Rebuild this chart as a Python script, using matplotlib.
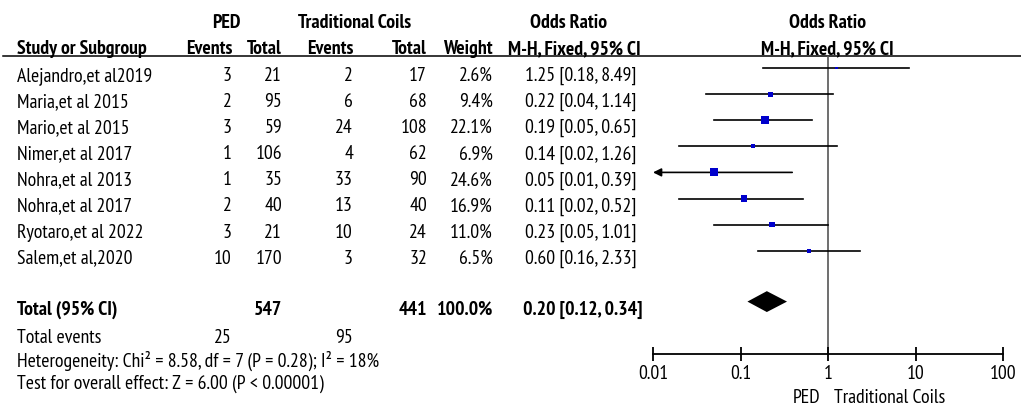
import numpy as np
import matplotlib
matplotlib.use("Agg")
import matplotlib.pyplot as plt

plt.rcParams['font.family'] = ['PT Sans Narrow', 'DejaVu Sans']

studies = ["Alejandro,et al2019", "Maria,et al 2015", "Mario,et al 2015",
           "Nimer,et al 2017", "Nohra,et al 2013", "Nohra,et al 2017",
           "Ryotaro,et al 2022", "Salem,et al,2020"]
ped_events = [3, 2, 3, 1, 1, 2, 3, 10]
ped_total = [21, 95, 59, 106, 35, 40, 21, 170]
tc_events = [2, 6, 24, 4, 33, 13, 10, 3]
tc_total = [17, 68, 108, 62, 90, 40, 24, 32]
weights = [2.6, 9.4, 22.1, 6.9, 24.6, 16.9, 11.0, 6.5]
odds = [1.25, 0.22, 0.19, 0.14, 0.05, 0.11, 0.23, 0.60]
ci_low = [0.18, 0.04, 0.05, 0.02, 0.01, 0.02, 0.05, 0.16]
ci_high = [8.49, 1.14, 0.65, 1.26, 0.39, 0.52, 1.01, 2.33]

total_or, total_low, total_high = 0.20, 0.12, 0.34
xticks = [0.01, 0.1, 1, 10, 100]
xtick_labels = ["0.01", "0.1", "1", "10", "100"]

W, H = 1021, 414
FS = 14.2

# pixel layout
row0, row_step = 69, 26.1
total_row = 8.95
top_px, axis_px = 57, 355
left_px, right_px = 653, 1003

def row_px(i):
    return row0 + row_step * i

fig = plt.figure(figsize=(W / 100, H / 100), dpi=100)
bg = fig.add_axes([0, 0, 1, 1])
bg.set_xlim(0, W)
bg.set_ylim(H, 0)
bg.axis("off")

ax = fig.add_axes([left_px / W, (H - axis_px) / H,
                   (right_px - left_px) / W, (axis_px - top_px) / H])
ax.set_xscale("log")
ax.set_xlim(xticks[0], xticks[-1])
ax.set_ylim((axis_px - row0) / row_step, (top_px - row0) / row_step)
ax.patch.set_alpha(0)
for s in ["top", "left", "right"]:
    ax.spines[s].set_visible(False)
ax.spines["bottom"].set_linewidth(1.3)
ax.set_yticks([])
ax.set_xticks(xticks)
ax.set_xticklabels(xtick_labels)
ax.minorticks_off()
ax.tick_params(axis="x", direction="inout", length=10, width=1.3,
               labelsize=FS, pad=2)

# header line
bg.plot([3, W], [top_px, top_px], color="black", lw=1.1)
ax.axvline(1, color="#555555", lw=1.2, zorder=1)

# study rows
ys = np.arange(len(studies))
for y, lo, hi in zip(ys, ci_low, ci_high):
    if lo <= xticks[0]:
        ax.annotate("", xy=(xticks[0], y), xytext=(hi, y),
                    arrowprops=dict(arrowstyle="-|>", color="black", lw=1.2,
                                    mutation_scale=12, shrinkA=0, shrinkB=0))
    else:
        ax.plot([lo, hi], [y, y], color="black", lw=1.2, zorder=2)
sizes = (1.6 * np.sqrt(weights) * 0.72) ** 2
ax.scatter(odds, ys, s=sizes, marker="s", color="#0000CC", lw=0, zorder=3)

# total diamond
ax.fill([total_low, total_or, total_high, total_or],
        [total_row, total_row - 0.4, total_row, total_row + 0.4],
        color="black", lw=0, zorder=3)

# header text
bold = dict(fontsize=FS, fontweight="bold", va="baseline")
bg.text(226, 28, "PED", ha="center", **bold)
bg.text(355, 28, "Traditional Coils", ha="center", **bold)
bg.text(568, 28, "Odds Ratio", ha="center", **bold)
bg.text(827, 28, "Odds Ratio", ha="center", **bold)
bg.text(17, 54, "Study or Subgroup", ha="left", **bold)
bg.text(232, 54, "Events", ha="right", **bold)
bg.text(282, 54, "Total", ha="right", **bold)
bg.text(353, 54, "Events", ha="right", **bold)
bg.text(427, 54, "Total", ha="right", **bold)
bg.text(493, 54, "Weight", ha="right", **bold)
bg.text(574, 54, "M-H, Fixed, 95% CI", ha="center", **bold)
bg.text(827, 54, "M-H, Fixed, 95% CI", ha="center", **bold)

norm = dict(fontsize=FS, va="baseline")
for i in range(len(studies)):
    yb = row_px(i) + 12
    bg.text(17, yb, studies[i], ha="left", **norm)
    bg.text(232, yb, str(ped_events[i]), ha="right", **norm)
    bg.text(282, yb, str(ped_total[i]), ha="right", **norm)
    bg.text(353, yb, str(tc_events[i]), ha="right", **norm)
    bg.text(427, yb, str(tc_total[i]), ha="right", **norm)
    bg.text(493, yb, f"{weights[i]:.1f}%", ha="right", **norm)
    bg.text(525, yb, f"{odds[i]:.2f} [{ci_low[i]:.2f}, {ci_high[i]:.2f}]",
            ha="left", **norm)

yb = row_px(total_row) + 12
bg.text(17, yb, "Total (95% CI)", ha="left", **bold)
bg.text(282, yb, str(sum(ped_total)), ha="right", **bold)
bg.text(427, yb, str(sum(tc_total)), ha="right", **bold)
bg.text(493, yb, "100.0%", ha="right", **bold)
bg.text(523, yb, f"{total_or:.2f} [{total_low:.2f}, {total_high:.2f}]",
        ha="left", **bold)

bg.text(17, 343, "Total events", ha="left", **norm)
bg.text(232, 343, str(sum(ped_events)), ha="right", **norm)
bg.text(353, 343, str(sum(tc_events)), ha="right", **norm)
bg.text(17, 367, "Heterogeneity: Chi\u00b2 = 8.58, df = 7 (P = 0.28); I\u00b2 = 18%",
        ha="left", **norm)
bg.text(17, 389, "Test for overall effect: Z = 6.00 (P < 0.00001)",
        ha="left", **norm)

bg.text(820, 403, "PED", ha="right", **norm)
bg.text(834, 403, "Traditional Coils", ha="left", **norm)

fig.savefig("out.png", dpi=100)
